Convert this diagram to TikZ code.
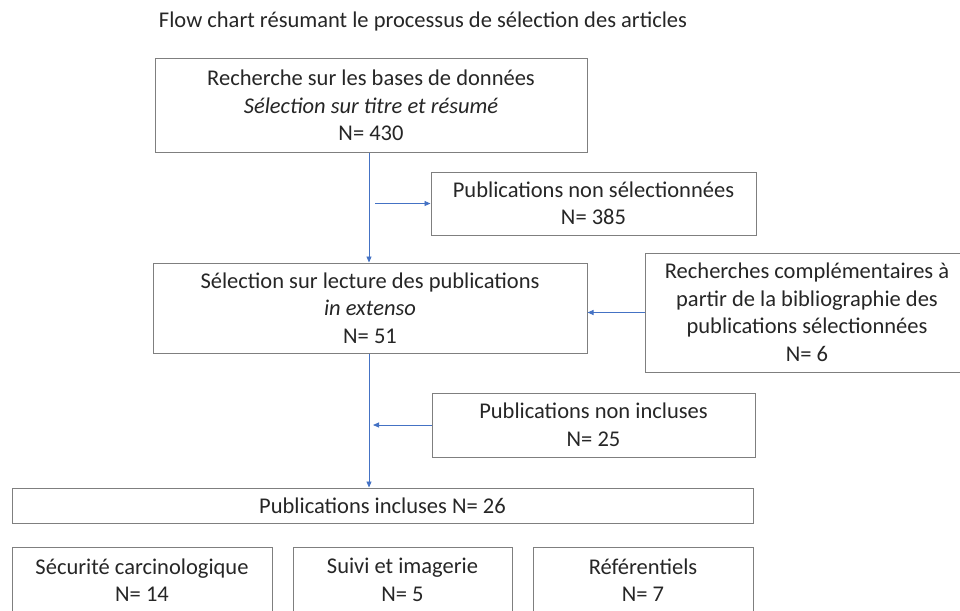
\documentclass[tikz,border=0pt]{standalone}
\usepackage{fontspec}
\setmainfont{Carlito}
\usetikzlibrary{arrows.meta}
\definecolor{boxgray}{HTML}{7F7F7F}
\definecolor{arrblue}{HTML}{4472C4}
\definecolor{txt}{HTML}{262626}
\begin{document}
\begin{tikzpicture}[x=1pt,y=-1pt,
  box/.style={draw=boxgray, line width=1pt, fill=white, align=center, inner sep=0pt,
    text=txt, font=\fontsize{22.5}{27.5}\selectfont},
  arr/.style={draw=arrblue, line width=0.9pt, -{Triangle[length=6pt,width=5pt]}}]
\useasboundingbox (0,0) rectangle (960,610);

\node[text=txt, font=\fontsize{22.5}{27.5}\selectfont, anchor=base] (title) at (423,28)
  {Flow chart résumant le processus de sélection des articles};

\node[box, minimum width=432pt, minimum height=93pt] (box1) at (371,105.5)
  {Recherche sur les bases de données\\\textit{Sélection sur titre et résumé}\\N= 430};
\node[box, minimum width=325pt, minimum height=63pt] (nonsel) at (593.5,203.5)
  {Publications non sélectionnées\\N= 385};
\node[box, minimum width=434pt, minimum height=90pt] (box2) at (370,308)
  {Sélection sur lecture des publications\\\textit{in extenso}\\N= 51};
\node[box, minimum width=324pt, minimum height=119pt] (rech) at (807,312.5)
  {Recherches complémentaires à\\partir de la bibliographie des\\publications sélectionnées\\N= 6};
\node[box, minimum width=323pt, minimum height=64pt] (nonincl) at (593.5,425)
  {Publications non incluses\\N= 25};
\node[box, minimum width=741pt, minimum height=35pt] (incl) at (382.5,505.5)
  {Publications incluses N= 26};
\node[box, minimum width=260pt, minimum height=66pt] (cat1) at (142,580)
  {Sécurité carcinologique\\N= 14};
\node[box, minimum width=219pt, minimum height=66pt] (cat2) at (402.5,580)
  {Suivi et imagerie\\N= 5};
\node[box, minimum width=220pt, minimum height=66pt] (cat3) at (643,580)
  {Référentiels\\N= 7};

\coordinate (vx) at (369,0);
\coordinate (bx) at (375,0);
\coordinate (tx) at (373,0);

\draw[arr] (box1.south -| vx) -- (box2.north -| vx);
\draw[arr] (nonsel.west -| bx) -- (nonsel.west);
\draw[arr] (rech.west) -- (box2.east |- rech.west);
\draw[arr] (box2.south -| vx) -- (incl.north -| vx);
\draw[arr] (nonincl.west) -- (nonincl.west -| tx);
\end{tikzpicture}
\end{document}
